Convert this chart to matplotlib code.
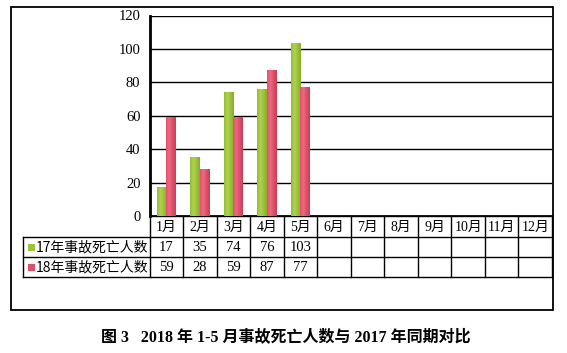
import numpy as np
import matplotlib
matplotlib.use("Agg")
import matplotlib.pyplot as plt
from matplotlib.patches import Rectangle
from matplotlib.colors import to_rgb

# ---------------- data ----------------
months = ['1月', '2月', '3月', '4月', '5月', '6月', '7月', '8月', '9月', '10月', '11月', '12月']
series_names = ['17年事故死亡人数', '18年事故死亡人数']
deaths_2017 = [17, 35, 74, 76, 103]
deaths_2018 = [59, 28, 59, 87, 77]
yticks = [0, 20, 40, 60, 80, 100, 120]
caption = '图 3   2018 年 1-5 月事故死亡人数与 2017 年同期对比'

green = '#9cc33a'
red = '#dd4f68'
green_grad = ['#92bb33', '#b0d252', '#9cc33a', '#84ab2c']
red_grad = ['#e0536b', '#ee6a80', '#dd4f68', '#c4405a']

W, H = 567, 353
fig = plt.figure(figsize=(W / 100, H / 100), dpi=100)

def fx(px):
    return px / W

def fy(py):
    return 1 - py / H

# layout in pixels
plot_l, plot_r, plot_t, plot_b = 149.5, 552.0, 15.5, 216.0
row_ys = [216.0, 237.0, 257.0, 277.0]
legend_l = 22.7

ax = fig.add_axes([fx(plot_l), fy(plot_b), fx(plot_r - plot_l), (plot_b - plot_t) / H])
ax.set_facecolor('none')

n = len(months)
x = np.arange(n)
bw = 0.285
serif = ['Liberation Serif', 'Noto Sans CJK SC']
cjk = ['Noto Sans CJK SC', 'DejaVu Sans']


def grad_img(cols):
    rgb = np.array([to_rgb(c) for c in cols])
    t = np.linspace(0, 1, 40)
    pos = np.linspace(0, 1, len(cols))
    img = np.stack([np.interp(t, pos, rgb[:, k]) for k in range(3)], axis=-1)
    return img[None, :, :]


for vals, off, col, grad in [(deaths_2017, -bw / 2, green, green_grad),
                             (deaths_2018, bw / 2, red, red_grad)]:
    bars = ax.bar(x[:len(vals)] + off, vals, width=bw, color=col, zorder=3, linewidth=0)
    img = grad_img(grad)
    for b in bars:
        x0, w, h = b.get_x(), b.get_width(), b.get_height()
        ax.imshow(img, extent=[x0, x0 + w, 0, h], aspect='auto', zorder=4,
                  interpolation='bilinear')

ax.set_xlim(-0.5, n - 0.5)
ax.set_ylim(0, 120)
ax.set_yticks(yticks)
ax.set_yticklabels([str(v) for v in yticks], family=serif, fontsize=10.5)
ax.set_xticks([])
ax.tick_params(axis='y', length=0, pad=6.5)
ax.yaxis.grid(True, color='black', linewidth=1.0)
ax.set_axisbelow(True)
for s in ['top', 'right']:
    ax.spines[s].set_visible(False)
ax.spines['left'].set_linewidth(2.0)
ax.spines['bottom'].set_linewidth(1.2)

# ---------------- overlay for table and frame ----------------
ov = fig.add_axes([0, 0, 1, 1], zorder=-1)
ov.set_xlim(0, W)
ov.set_ylim(H, 0)
ov.axis('off')

# outer frame
ov.add_patch(Rectangle((11, 7), 553 - 11, 310 - 7, fill=False, edgecolor='black', linewidth=1.3))

colw = (plot_r - plot_l) / n
lw = 1.0
# horizontal lines
ov.plot([plot_l, plot_r], [row_ys[0]] * 2, color='black', lw=lw)
for yy in row_ys[1:]:
    ov.plot([legend_l, plot_r], [yy] * 2, color='black', lw=lw)
# vertical lines
ov.plot([legend_l, legend_l], [row_ys[1], row_ys[3]], color='black', lw=lw)
for i in range(n + 1):
    xx = plot_l + i * colw
    ov.plot([xx, xx], [row_ys[0], row_ys[3]], color='black', lw=lw)

# header
for i, m in enumerate(months):
    ov.text(plot_l + (i + 0.5) * colw, (row_ys[0] + row_ys[1]) / 2 + 0.5, m,
            ha='center', va='center', family=serif, fontsize=10)

# data rows
for r, (name, vals, col) in enumerate([(series_names[0], deaths_2017, green),
                                       (series_names[1], deaths_2018, red)]):
    yc = (row_ys[r + 1] + row_ys[r + 2]) / 2
    ov.add_patch(Rectangle((28, yc - 3.5), 7, 7, facecolor=col, edgecolor='none'))
    ov.text(36, yc + 0.5, name, ha='left', va='center', family=cjk, fontsize=10)
    for i, v in enumerate(vals):
        ov.text(plot_l + (i + 0.5) * colw, yc + 0.5, str(v), ha='center', va='center',
                family=serif, fontsize=10.5)

# caption
fig.text(fx(286), fy(337), caption, ha='center', va='center',
         family=serif, fontsize=11.5, fontweight='bold')

fig.savefig('out.png', dpi=100)
